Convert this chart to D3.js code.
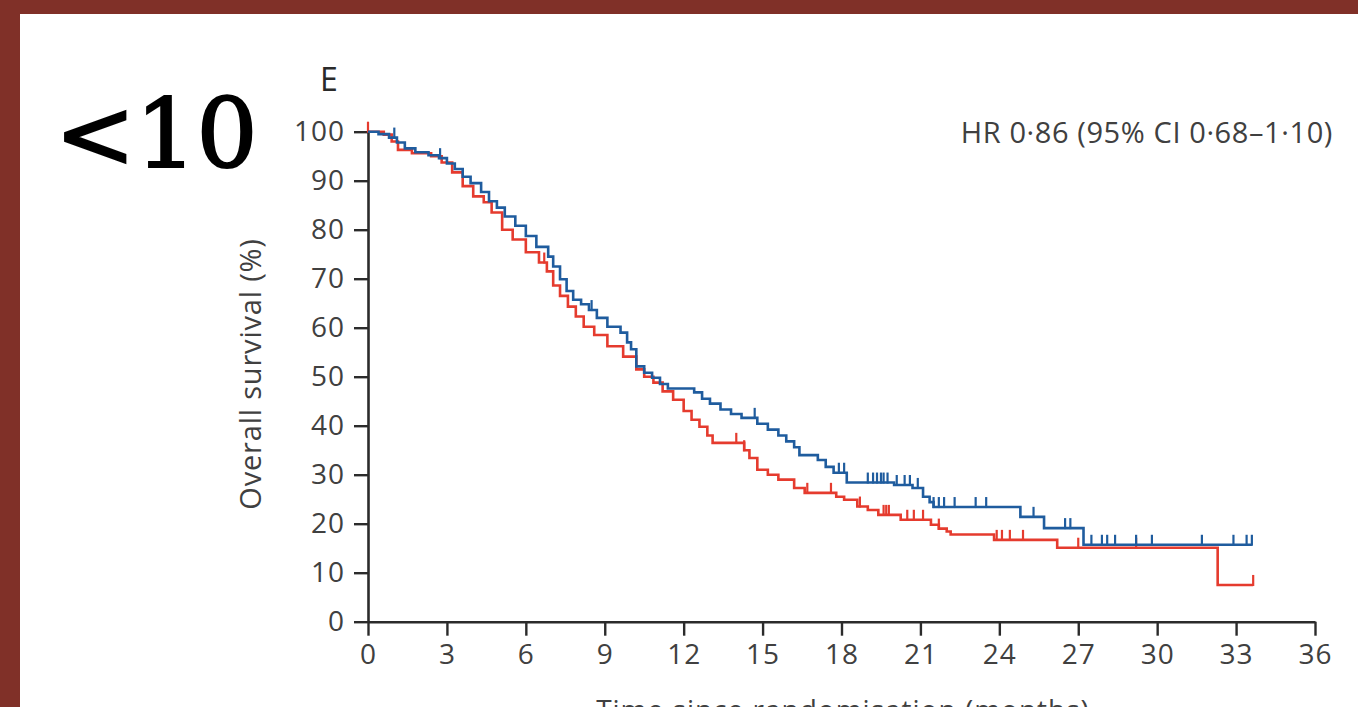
<!DOCTYPE html>
<html>
<head>
<meta charset="utf-8">
<script src="https://cdn.jsdelivr.net/npm/d3@7"></script>
<style>
  html, body { margin: 0; padding: 0; background: #fff; overflow: hidden; }
  svg { display: block; }
  text { font-family: "Open Sans", "Noto Sans", sans-serif; }
</style>
</head>
<body>
<svg id="chart" width="1358" height="707"></svg>
<script>
// ---- data ----
const xTicks = [0, 3, 6, 9, 12, 15, 18, 21, 24, 27, 30, 33, 36];
const yTicks = [0, 10, 20, 30, 40, 50, 60, 70, 80, 90, 100];

const blueTimes = [0, 0.4, 0.8, 1.1, 1.4, 1.8, 2.3, 2.7, 3.0, 3.3, 3.6, 3.9, 4.3, 4.6, 4.9, 5.2, 5.6, 6.0, 6.4, 6.85,
  7.04, 7.3, 7.55, 7.8, 8.1, 8.4, 8.7, 9.1, 9.6, 9.85, 10.0, 10.2, 10.5, 10.8, 11.1, 11.4, 12.4, 12.7, 13.0, 13.4,
  13.8, 14.2, 14.8, 15.2, 15.6, 15.9, 16.2, 16.4, 17.1, 17.4, 17.7, 18.2, 20.0, 20.7, 21.1, 21.35, 21.5, 24.8, 25.7, 27.2, 33.6];
const blueSurv = [100, 99.5, 98.8, 97.8, 96.6, 95.8, 95.2, 94.6, 93.5, 92.4, 90.8, 89.5, 87.7, 85.8, 84.5, 82.7, 80.8, 78.7, 76.5, 74.5,
  72.5, 69.9, 67.5, 65.7, 64.8, 63.6, 62.0, 60.2, 59.0, 57.0, 55.6, 52.1, 50.8, 49.8, 48.5, 47.6, 46.8, 45.5, 44.5, 43.3,
  42.4, 41.6, 40.4, 39.2, 38.0, 36.8, 35.6, 34.0, 33.0, 31.6, 30.4, 28.4, 27.9, 27.3, 25.5, 24.4, 23.4, 21.4, 19.1, 15.7, 15.7];
const blueCensor = [1.0, 2.74, 8.5, 14.7, 17.9, 18.1, 19.0, 19.2, 19.35, 19.5, 19.6, 19.75, 20.1, 20.4, 20.6, 20.9,
  21.5, 21.7, 21.9, 22.3, 23.1, 23.5, 25.3, 26.5, 26.7, 27.5, 27.9, 28.1, 28.4, 29.2, 29.8, 31.7, 32.9, 33.4, 33.6];

const redTimes = [0, 0.6, 0.9, 1.14, 1.67, 2.4, 2.8, 3.2, 3.6, 4.0, 4.4, 4.7, 5.1, 5.5, 6.0, 6.5, 6.8, 7.04, 7.3, 7.6,
  7.9, 8.2, 8.6, 9.1, 9.7, 10.2, 10.5, 10.85, 11.2, 11.6, 12.0, 12.3, 12.6, 12.9, 13.1, 14.3, 14.5, 14.8, 15.2, 15.6,
  16.2, 16.6, 17.8, 18.1, 18.6, 19.0, 19.4, 20.25, 21.4, 21.7, 22.0, 22.15, 23.8, 26.2, 32.3, 33.65];
const redSurv = [100, 99.4, 98.0, 96.3, 95.6, 95.0, 93.7, 91.7, 88.9, 86.8, 85.6, 83.5, 80.0, 78.0, 75.4, 73.3, 71.5, 68.6, 66.5, 64.3,
  62.3, 60.2, 58.5, 56.2, 54.1, 51.5, 50.0, 48.8, 47.0, 45.3, 43.0, 41.2, 39.8, 38.0, 36.5, 35.0, 33.4, 31.0, 30.0, 29.0,
  27.3, 26.3, 25.5, 24.9, 23.5, 22.8, 21.8, 20.8, 19.8, 19.0, 18.4, 17.8, 16.7, 15.1, 7.5, 7.5];
const redCensor = [0, 6.7, 14.0, 14.3, 16.7, 17.6, 18.7, 19.6, 19.7, 19.8, 20.5, 20.75, 21.1, 21.7, 23.9, 24.1, 24.4, 24.9,
  27.0, 29.2, 33.65];

const panelLetter = "E";
const sideLabel = "<10";
const hrText = "HR 0·86 (95% CI 0·68–1·10)";
const yTitle = "Overall survival (%)";
const xTitle = "Time since randomisation (months)";

// ---- drawing ----
const svg = d3.select("#chart");
const frameColor = "#803028";
svg.append("rect").attr("x", 0).attr("y", 0).attr("width", 1358).attr("height", 707).attr("fill", "#fff");
svg.append("rect").attr("x", 0).attr("y", 0).attr("width", 1358).attr("height", 14).attr("fill", frameColor);
svg.append("rect").attr("x", 0).attr("y", 0).attr("width", 20).attr("height", 707).attr("fill", frameColor);

const x = d3.scaleLinear().domain([0, 36]).range([368, 1315]);
const y = d3.scaleLinear().domain([0, 100]).range([621.7, 131.7]);

const axisColor = "#2b2b2b";
const labelColor = "#404040";

const gx = svg.append("g").attr("transform", `translate(0,${y(0)})`)
  .call(d3.axisBottom(x).tickValues(xTicks).tickSize(14).tickPadding(8).tickSizeOuter(0));
const gy = svg.append("g").attr("transform", `translate(${x(0)},0)`)
  .call(d3.axisLeft(y).tickValues(yTicks).tickSize(14).tickPadding(9).tickSizeOuter(0));
[gx, gy].forEach(g => {
  g.select(".domain").attr("stroke", axisColor).attr("stroke-width", 2.6);
  g.selectAll(".tick line").attr("stroke", axisColor).attr("stroke-width", 2.4);
  g.selectAll(".tick text").attr("fill", labelColor).attr("font-size", 28)
    .attr("letter-spacing", 1)
    .attr("font-family", "'Open Sans', sans-serif");
});

function drawCurve(times, surv, censor, color) {
  const pts = times.map((t, i) => [t, surv[i]]);
  const line = d3.line().x(d => x(d[0])).y(d => y(d[1])).curve(d3.curveStepAfter);
  svg.append("path").attr("d", line(pts)).attr("fill", "none")
    .attr("stroke", color).attr("stroke-width", 2.6).attr("stroke-linejoin", "miter");
  const survAt = t => {
    let s = surv[0];
    for (let i = 0; i < times.length; i++) { if (times[i] <= t) s = surv[i]; }
    return s;
  };
  svg.append("g").selectAll("line").data(censor).join("line")
    .attr("x1", d => x(d)).attr("x2", d => x(d))
    .attr("y1", d => y(survAt(d)) + 1).attr("y2", d => y(survAt(d)) - 10)
    .attr("stroke", color).attr("stroke-width", 2.2);
}
drawCurve(redTimes, redSurv, redCensor, "#e53b2e");
drawCurve(blueTimes, blueSurv, blueCensor, "#1f5c9e");

// texts
svg.append("text").attr("x", 320).attr("y", 91).attr("font-size", 32).attr("font-weight", 500)
  .attr("fill", "#2a2a2a").text(panelLetter);
svg.append("text").attr("x", 55).attr("y", 167).attr("font-size", 96)
  .style("font-family", "'DejaVu Serif', serif").attr("fill", "#000")
  .attr("stroke", "#000").attr("stroke-width", 2.2)
  .text(sideLabel);
svg.append("text").attr("x", 1333).attr("y", 143).attr("text-anchor", "end").attr("font-size", 29)
  .attr("letter-spacing", 0.6).attr("fill", labelColor).text(hrText);
svg.append("text").attr("transform", `translate(261,374) rotate(-90)`).attr("text-anchor", "middle")
  .attr("font-size", 29).attr("letter-spacing", 0.8).attr("fill", labelColor).text(yTitle);
svg.append("text").attr("x", 843).attr("y", 720).attr("text-anchor", "middle").attr("font-size", 28)
  .attr("letter-spacing", 1).attr("fill", labelColor).text(xTitle);
</script>
</body>
</html>
